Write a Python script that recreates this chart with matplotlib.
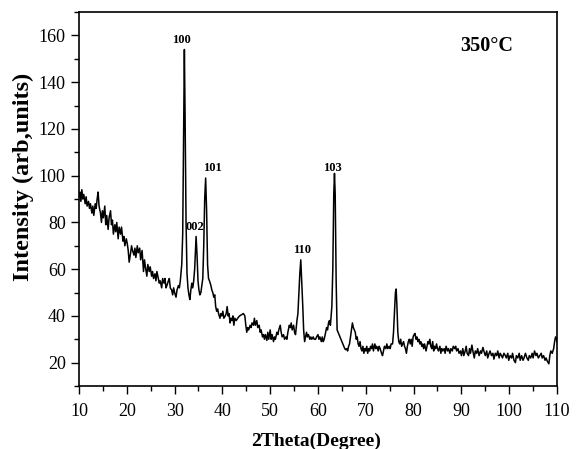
import matplotlib
matplotlib.use("Agg")
import matplotlib.pyplot as plt
from matplotlib.ticker import MultipleLocator

two_theta = [
    10.0, 10.2, 10.4, 10.6, 10.8, 11.0, 11.3, 11.5, 11.7, 12.0, 12.2, 12.4, 12.7, 12.9, 13.1, 13.4, 13.6, 13.8,
    14.0, 14.2, 14.5, 14.7, 14.9, 15.1, 15.4, 15.6, 15.8, 16.1, 16.3, 16.6, 16.8, 17.0, 17.2, 17.5, 17.7, 17.9,
    18.2, 18.4, 18.7, 18.9, 19.2, 19.4, 19.6, 19.9, 20.1, 20.3, 20.5, 20.8, 21.0, 21.2, 21.5, 21.7, 21.9, 22.2,
    22.4, 22.7, 22.9, 23.2, 23.5, 23.7, 23.9, 24.2, 24.4, 24.7, 24.9, 25.2, 25.4, 25.6, 25.9, 26.1, 26.3, 26.6,
    26.8, 27.0, 27.3, 27.5, 27.8, 28.0, 28.2, 28.4, 28.7, 28.9, 29.1, 29.4, 29.6, 29.8, 30.0, 30.3, 30.5, 30.8,
    31.0, 31.2, 31.5, 31.7, 31.9, 32.05, 32.2, 32.4, 32.6, 32.8, 33.0, 33.2, 33.4, 33.6, 33.8, 34.0, 34.2, 34.5,
    34.7, 34.9, 35.1, 35.3, 35.5, 35.7, 35.9, 36.1, 36.3, 36.5, 36.7, 36.9, 37.1, 37.3, 37.6, 37.8, 38.0, 38.2,
    38.4, 38.6, 38.8, 39.0, 39.2, 39.5, 39.7, 39.9, 40.1, 40.3, 40.6, 40.8, 41.0, 41.2, 41.4, 41.6, 41.8, 42.0,
    42.2, 42.4, 42.6, 42.9, 43.2, 43.6, 44.0, 44.4, 44.7, 44.9, 45.1, 45.3, 45.5, 45.8, 46.0, 46.2, 46.5, 46.7,
    46.9, 47.2, 47.4, 47.7, 47.9, 48.1, 48.4, 48.6, 48.8, 49.0, 49.3, 49.5, 49.7, 50.0, 50.2, 50.4, 50.7, 50.9,
    51.1, 51.4, 51.6, 51.8, 52.1, 52.3, 52.5, 52.8, 53.0, 53.3, 53.5, 53.7, 54.0, 54.2, 54.4, 54.6, 54.9, 55.1,
    55.3, 55.6, 55.8, 56.0, 56.2, 56.4, 56.6, 56.8, 57.0, 57.2, 57.4, 57.6, 57.8, 58.0, 58.3, 58.5, 58.7, 59.0,
    59.2, 59.5, 59.7, 60.0, 60.2, 60.4, 60.7, 60.9, 61.1, 61.3, 61.5, 61.8, 62.0, 62.2, 62.4, 62.6, 62.9, 63.1,
    63.3, 63.45, 63.6, 63.8, 64.0, 64.2, 64.4, 64.6, 64.8, 65.0, 65.2, 65.4, 65.6, 65.8, 66.0, 66.2, 66.4, 66.6,
    66.8, 67.0, 67.2, 67.4, 67.6, 67.8, 68.0, 68.2, 68.4, 68.6, 68.8, 69.0, 69.2, 69.4, 69.6, 69.8, 70.0, 70.2,
    70.4, 70.6, 70.8, 71.0, 71.2, 71.4, 71.6, 71.9, 72.1, 72.3, 72.6, 72.8, 73.0, 73.3, 73.5, 73.7, 73.9, 74.2,
    74.4, 74.6, 74.9, 75.1, 75.3, 75.6, 75.8, 76.0, 76.2, 76.35, 76.5, 76.7, 76.9, 77.1, 77.3, 77.5, 77.7, 77.9,
    78.1, 78.3, 78.5, 78.7, 78.9, 79.1, 79.3, 79.5, 79.7, 79.9, 80.1, 80.3, 80.5, 80.7, 80.9, 81.1, 81.3, 81.5,
    81.7, 81.9, 82.1, 82.3, 82.6, 82.8, 83.0, 83.2, 83.4, 83.6, 83.8, 84.0, 84.2, 84.4, 84.6, 84.8, 85.0, 85.2,
    85.5, 85.7, 85.9, 86.1, 86.4, 86.6, 86.8, 87.1, 87.3, 87.6, 87.8, 88.1, 88.3, 88.6, 88.8, 89.0, 89.3, 89.5,
    89.8, 90.0, 90.3, 90.5, 90.8, 91.0, 91.2, 91.5, 91.7, 91.9, 92.2, 92.4, 92.7, 92.9, 93.2, 93.4, 93.7, 94.0,
    94.2, 94.5, 94.7, 95.0, 95.3, 95.5, 95.8, 96.0, 96.3, 96.6, 96.8, 97.1, 97.4, 97.6, 97.9, 98.1, 98.4, 98.6,
    98.9, 99.2, 99.4, 99.7, 99.9, 100.2, 100.5, 100.7, 101.0, 101.3, 101.5, 101.8, 102.1, 102.3, 102.6, 102.9,
    103.1, 103.4, 103.7, 104.0, 104.2, 104.5, 104.8, 105.0, 105.3, 105.6, 105.8, 106.1, 106.4, 106.7, 106.9,
    107.2, 107.5, 107.7, 108.0, 108.3, 108.5, 108.7, 109.0, 109.3, 109.5, 109.7, 109.9, 110.0,
]

intensity = [
    91, 93, 89, 94, 90, 92, 88, 91, 87, 89, 86, 88, 84, 87, 83, 88, 86, 90,
    93, 87, 84, 80, 85, 82, 87, 79, 83, 77, 82, 85, 79, 81, 75, 79, 76, 80,
    73, 78, 75, 78, 72, 74, 70, 73, 71, 68, 63, 67, 70, 68, 66, 69, 65, 70,
    67, 69, 64, 68, 59, 64, 61, 57, 62, 59, 61, 57, 59, 56, 58, 55, 59, 56,
    54, 55, 52, 56, 54, 56, 52, 53, 55, 56, 52, 51, 49, 52, 50, 48, 51, 53,
    52, 55, 62, 75, 120, 154, 125, 80, 58, 52, 49, 47, 51, 54, 52, 55, 60, 74,
    66, 55, 51, 49, 50, 53, 56, 70, 90, 99, 85, 62, 56, 55, 53, 51, 50, 48,
    49, 44, 42, 43, 41, 39, 41, 40, 42, 39, 40, 41, 44, 40, 41, 37, 39, 38,
    40, 36, 39, 38, 39, 40, 40.5, 41, 40, 36, 33, 35, 34, 36, 35, 37, 36, 39,
    36, 38, 35, 36, 33, 34, 31, 32, 30, 32, 29.5, 33, 30, 34, 30, 32, 29, 31,
    30, 33, 32, 34, 36, 33, 31, 32, 30, 31, 30, 33, 36, 35, 37, 34, 36, 33,
    32, 38, 41, 50, 58, 64, 55, 45, 34, 29, 31, 33, 31, 32, 30, 31, 30, 31,
    30, 30, 31, 32, 30, 31, 29, 31, 29, 30, 32, 35, 34, 37, 38, 36, 44, 60,
    92, 101, 92, 55, 34, 33, 32, 31, 30, 29, 28, 27, 26, 25.5, 26, 25, 27, 28,
    31, 34, 37, 35, 34, 33, 30, 31, 28, 27, 29, 26, 25, 27, 24, 26, 25, 27,
    24, 26, 25, 27, 26, 28, 25, 28, 26, 27, 25, 27, 26, 24, 23, 25, 27, 26,
    28, 26, 27, 26, 28, 28, 33, 42, 50, 51.5, 45, 33, 29, 28, 30, 27, 28, 29,
    27, 26, 24, 27, 29, 30, 28, 30, 27, 31, 32, 32.5, 30, 31, 29, 30, 28, 29,
    27, 28, 26, 28, 25, 27, 29, 28, 30, 27, 26, 29, 25, 27, 26, 28, 26, 25,
    27, 24, 26, 25, 26, 24, 27, 25, 26, 24, 26, 25, 27, 26, 27, 25, 26, 24,
    25, 23, 26, 23, 25, 27, 24, 23, 26, 24, 27.5, 25, 22, 25, 24, 26, 23, 25,
    24, 26.5, 25, 23, 25, 22, 24, 25, 23, 24, 21.5, 24, 23, 25, 22, 24, 23, 22,
    24, 23, 22, 24, 21, 23, 22, 24, 21, 20, 23, 22, 24, 21, 23, 21,
    22, 24, 22, 21, 23, 22, 24, 22, 25, 23, 24, 22, 23, 24, 22,
    23, 21, 22, 20.5, 19.5, 23, 25, 24, 26, 29, 31, 30, 29,
]

peak_labels = ["100", "002", "101", "110", "103"]
peak_label_x = [31.45, 34.3, 37.95, 56.6, 63.1]
peak_label_y = [158, 78, 103.3, 68, 103.3]

sample_label = "350°C"
x_ticks = [10, 20, 30, 40, 50, 60, 70, 80, 90, 100, 110]
y_ticks = [20, 40, 60, 80, 100, 120, 140, 160]

plt.rcParams['font.family'] = ['Liberation Serif', 'DejaVu Serif']

fig = plt.figure(figsize=(5.79, 4.49), dpi=100)
ax = fig.add_axes([0.1364, 0.1403, 0.8256, 0.8327])

ax.plot(two_theta, intensity, color='black', linewidth=1.1)

for lab, lx, ly in zip(peak_labels, peak_label_x, peak_label_y):
    ax.text(lx, ly, lab, ha='center', va='center', fontsize=9, fontweight='bold')

ax.text(95.3, 155.4, sample_label, ha='center', va='center', fontsize=14.5, fontweight='bold')

ax.set_xlim(10, 110)
ax.set_ylim(10, 170)
ax.set_xticks(x_ticks)
ax.set_yticks(y_ticks)
ax.xaxis.set_minor_locator(MultipleLocator(5))
ax.yaxis.set_minor_locator(MultipleLocator(10))
ax.tick_params(axis='both', which='major', direction='out', length=6, width=1.0,
               labelsize=13, top=False, right=False)
ax.tick_params(axis='both', which='minor', direction='out', length=3.5, width=1.0,
               top=False, right=False)
ax.tick_params(axis='x', pad=6)

for sp in ax.spines.values():
    sp.set_linewidth(1.2)

ax.set_xlabel("2Theta(Degree)", fontsize=14, fontweight='bold', va='center')
ax.xaxis.set_label_coords(0.497, -0.149)
ax.set_ylabel("Intensity (arb,units)", fontsize=17.5, fontweight='bold', va='center')
ax.yaxis.set_label_coords(-0.117, 0.56)

fig.savefig("out.png", dpi=100)
